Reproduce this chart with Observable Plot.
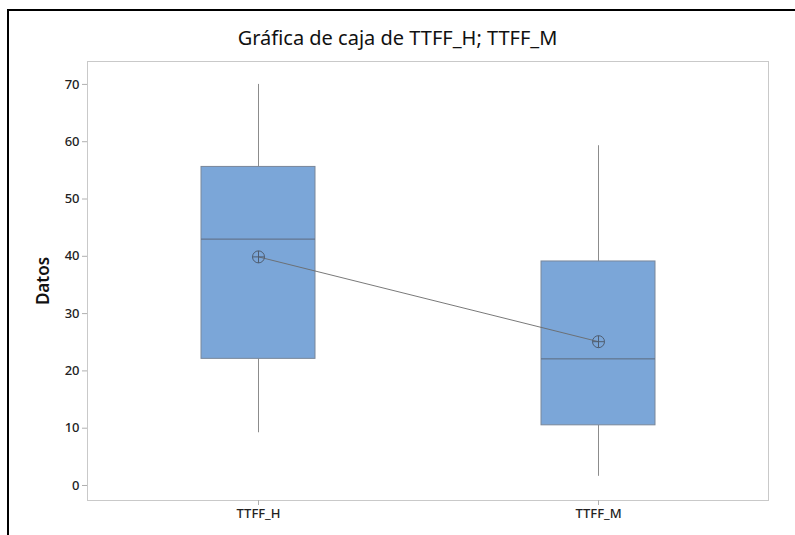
<!DOCTYPE html>
<html>
<head>
<meta charset="utf-8">
<script src="https://cdn.jsdelivr.net/npm/d3@7"></script>
<script src="https://cdn.jsdelivr.net/npm/@observablehq/plot@0.6"></script>
<style>
  html, body { margin: 0; padding: 0; background: #fff; }
  body { width: 795px; height: 535px; position: relative; overflow: hidden; font-family: "Noto Sans", "Open Sans", sans-serif; }
  #frame { position: absolute; left: 7px; top: 9px; right: 0; bottom: 0; border-top: 2px solid #000; border-left: 2px solid #000; }
  #title { position: absolute; left: 0; top: 0; width: 795px; height: 50px; text-align: center; font-size: 20px; line-height: 20px; padding-top: 28px; box-sizing: border-box; color: #111; }
  #chart { position: absolute; left: 0; top: 50px; }
</style>
</head>
<body>
<div id="frame"></div>
<div id="title">Gráfica de caja de TTFF_H; TTFF_M</div>
<div id="chart"></div>
<script>
const categories = ["TTFF_H", "TTFF_M"];
const whiskerLow = [9.2, 1.6];
const q1 = [22.1, 10.5];
const medians = [43.0, 22.1];
const q3 = [55.6, 39.1];
const whiskerHigh = [70.0, 59.3];
const means = [39.9, 25.1];
const yTicks = [0, 10, 20, 30, 40, 50, 60, 70];

const rows = categories.map((c, i) => ({
  cat: c, lo: whiskerLow[i], q1: q1[i], med: medians[i], q3: q3[i], hi: whiskerHigh[i], mean: means[i]
}));

const crossCircle = {
  draw(context, size) {
    const r = Math.sqrt(size / Math.PI);
    context.moveTo(r, 0);
    context.arc(0, 0, r, 0, 2 * Math.PI);
    context.moveTo(-r, 0);
    context.lineTo(r, 0);
    context.moveTo(0, -r);
    context.lineTo(0, r);
  }
};

const inset = 113;

const plot = Plot.plot({
  width: 795,
  height: 485,
  marginLeft: 87,
  marginRight: 27,
  marginTop: 11,
  marginBottom: 35,
  style: { fontFamily: "'Noto Sans', 'Open Sans', sans-serif", fontSize: "13px", color: "#222", background: "transparent" },
  x: { type: "band", domain: categories, padding: 0, label: null },
  y: { domain: [-2.62, 74.0], ticks: yTicks, label: "Datos" },
  marks: [
    Plot.frame({ stroke: "#c9c9c9", strokeWidth: 1 }),
    Plot.ruleX(rows, { x: "cat", y1: "lo", y2: "q1", stroke: "#8c8c8c", strokeWidth: 1 }),
    Plot.ruleX(rows, { x: "cat", y1: "q3", y2: "hi", stroke: "#8c8c8c", strokeWidth: 1 }),
    Plot.barY(rows, { x: "cat", y1: "q1", y2: "q3", fill: "#7ba6d8", stroke: "#7a8799", strokeWidth: 1, insetLeft: inset, insetRight: inset }),
    Plot.tickY(rows, { x: "cat", y: "med", stroke: "#5d6b7e", strokeWidth: 1, insetLeft: inset, insetRight: inset }),
    Plot.line(rows, { x: "cat", y: "mean", stroke: "#6a6a6a", strokeWidth: 0.9 }),
    Plot.dot(rows, { x: "cat", y: "mean", symbol: crossCircle, r: 6, stroke: "#4f5d70", fill: "none", strokeWidth: 1 }),
    Plot.axisY({ ticks: yTicks, tickSize: 5, tickPadding: 3, stroke: "#b0b0b0", label: "Datos", labelAnchor: "center", labelArrow: "none", labelOffset: 51, fontSize: 13 }),
    Plot.axisX({ tickSize: 5, tickPadding: 3, stroke: "#b0b0b0", label: null, fontSize: 13 })
  ]
});
document.getElementById("chart").appendChild(plot);

d3.select(plot).selectAll("g[aria-label='y-axis label'] text").style("font-size", "17px").style("font-weight", "600").style("fill", "#111");
d3.select(plot).selectAll("g[aria-label='y-axis tick label'] text, g[aria-label='x-axis tick label'] text").style("fill", "#222").style("font-weight", "500");
</script>
</body>
</html>
